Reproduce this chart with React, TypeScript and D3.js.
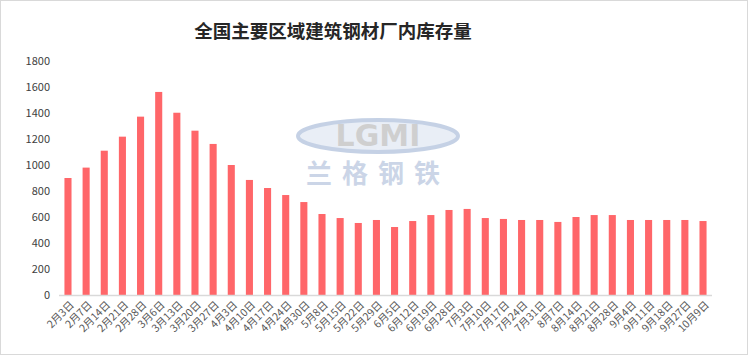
import * as d3 from "d3";
import React from "react";

const dates = [
  "2月3日", "2月7日", "2月14日", "2月21日", "2月28日", "3月6日", "3月13日", "3月20日", "3月27日",
  "4月3日", "4月10日", "4月17日", "4月24日", "4月30日", "5月8日", "5月15日", "5月22日", "5月29日",
  "6月5日", "6月12日", "6月19日", "6月28日", "7月3日", "7月10日", "7月17日", "7月24日", "7月31日",
  "8月7日", "8月14日", "8月21日", "8月28日", "9月4日", "9月11日", "9月18日", "9月27日", "10月9日",
];

const stock = [
  900, 980, 1110, 1218, 1372, 1562, 1402, 1264, 1162,
  1000, 885, 823, 769, 715, 623, 592, 554, 577,
  523, 569, 615, 654, 662, 592, 585, 577, 577,
  562, 600, 615, 615, 577, 577, 577, 577, 569,
];

const yTicks = [0, 200, 400, 600, 800, 1000, 1200, 1400, 1600, 1800];

const width = 748;
const height = 355;
const margin = { top: 61, right: 36, bottom: 60, left: 59 };

export default function App() {
  const x = d3
    .scaleBand<string>()
    .domain(dates)
    .range([margin.left, width - margin.right])
    .paddingInner(0.61)
    .paddingOuter(0.3);

  const y = d3
    .scaleLinear()
    .domain([0, 1800])
    .range([height - margin.bottom, margin.top]);

  const font = "'Noto Sans CJK SC', 'DejaVu Sans', sans-serif";

  return (
    <svg
      width={width}
      height={height}
      style={{ position: "absolute", left: 0, top: 0, background: "#fff" }}
      fontFamily={font}
    >
      <rect x={0.5} y={0.5} width={width - 1} height={height - 1} fill="#fff" stroke="#d9d9d9" />

      <text x={333} y={38} textAnchor="middle" fontSize={18.5} fontWeight="bold" fill="#262626">
        全国主要区域建筑钢材厂内库存量
      </text>

      {/* watermark */}
      <g opacity={0.4}>
        <ellipse cx={378} cy={136} rx={80} ry={16} fill="#c9d6ea" stroke="#6f8fc0" strokeWidth={4} />
        <text x={378} y={146} textAnchor="middle" fontSize={30} fontWeight="bold" fill="#8a8a8a" fontFamily="'DejaVu Sans'">
          LGMI
        </text>
        <text x={378} y={183} textAnchor="middle" fontSize={26} fontWeight="bold" fill="#7e98c4" letterSpacing={10}>
          兰格钢铁
        </text>
      </g>

      {yTicks.map((t) => (
        <text
          key={t}
          x={50}
          y={y(t)}
          dy="0.35em"
          textAnchor="end"
          fontSize={11}
          fill="#404040"
        >
          {t}
        </text>
      ))}

      {stock.map((v, i) => (
        <rect
          key={dates[i]}
          x={x(dates[i])}
          y={y(v)}
          width={x.bandwidth()}
          height={y(0) - y(v)}
          fill="#ff6669"
        />
      ))}

      <line
        x1={margin.left}
        x2={width - margin.right}
        y1={y(0) + 0.5}
        y2={y(0) + 0.5}
        stroke="#d9d9d9"
        strokeWidth={1.5}
      />

      {dates.map((d) => {
        const cx = (x(d) ?? 0) + x.bandwidth() / 2 + 4;
        return (
          <text
            key={d}
            transform={`translate(${cx}, ${y(0) + 8}) rotate(-45)`}
            textAnchor="end"
            dy="0.35em"
            fontSize={10.5}
            fill="#595959"
          >
            {d}
          </text>
        );
      })}
    </svg>
  );
}
